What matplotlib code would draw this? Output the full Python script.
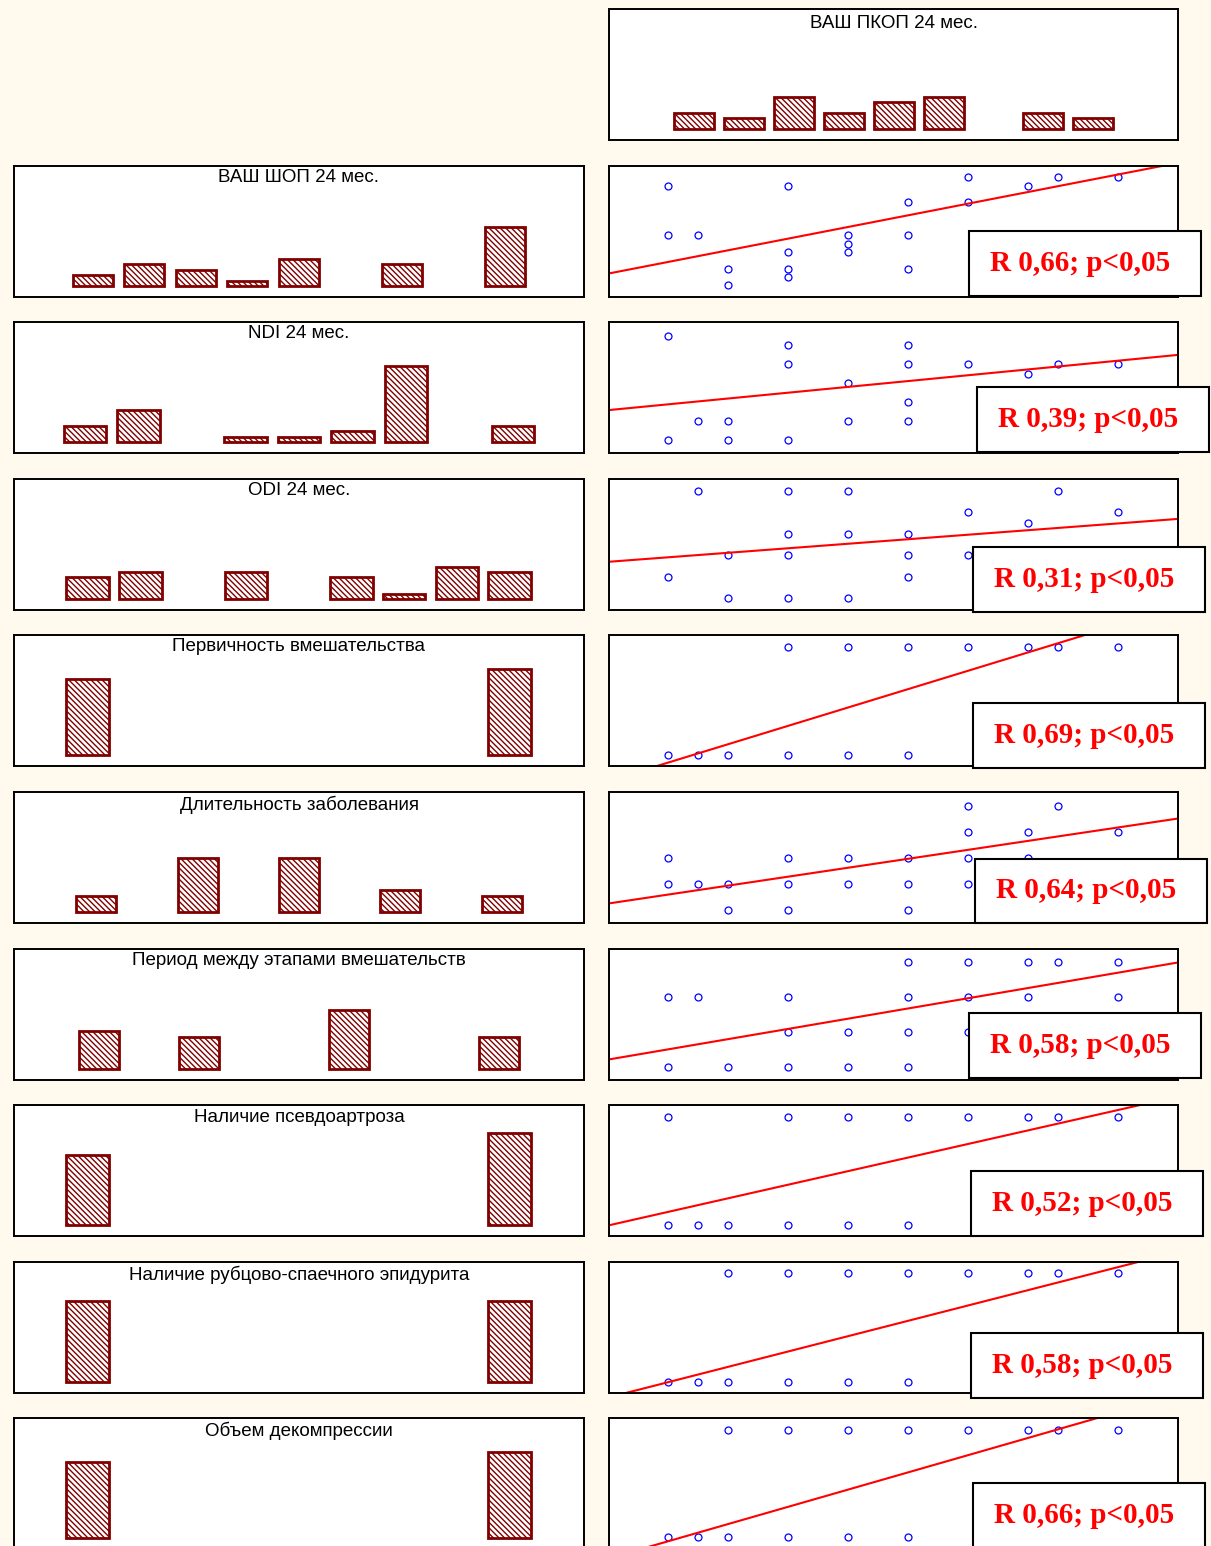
import numpy as np
import matplotlib
matplotlib.use("Agg")
import matplotlib.pyplot as plt
from matplotlib.patches import Rectangle

plt.rcParams['font.family'] = ['Liberation Sans', 'DejaVu Sans']
plt.rcParams['hatch.linewidth'] = 1.0

# ---------------- data ----------------
pkop_title = "ВАШ ПКОП 24 мес."
pkop_counts = [3, 2, 6, 3, 5, 6, 0, 3, 2]

titles = ["ВАШ ШОП 24 мес.", "NDI 24 мес.", "ODI 24 мес.",
          "Первичность вмешательства", "Длительность заболевания",
          "Период между этапами вмешательств", "Наличие псевдоартроза",
          "Наличие рубцово-спаечного эпидурита", "Объем декомпрессии"]

shop_counts = [2, 4, 3, 1, 5, 0, 4, 0, 11]
ndi_counts = [3, 6, 0, 1, 1, 2, 14, 0, 3]
odi_counts = [4, 5, 0, 5, 0, 4, 1, 6, 5]
primary_counts = [14, 16]
duration_counts = [3, 10, 10, 4, 3]
interval_counts = [7, 0, 6, 0, 0, 11, 0, 0, 6]
pseudo_counts = [13, 17]
epidur_counts = [15, 15]
decomp_counts = [14, 16]

# x: ВАШ ПКОП 24 мес.; y: the variable of each row
shop_x = [1, 1, 1.5, 2, 2, 3, 3, 3, 3, 4, 4, 4, 5, 5, 5, 6, 6, 7, 7.5, 8.5]
shop_y = [7, 4, 4, 2, 1, 7, 3, 2, 1.5, 4, 3.5, 3, 6, 4, 2, 7.5, 6, 7, 7.5, 7.5]
ndi_x = [1, 3, 3, 5, 5, 6, 7, 7.5, 8.5, 4, 5, 1.5, 2, 4, 5, 1, 2, 3]
ndi_y = [26, 24, 20, 24, 20, 20, 18, 20, 20, 16, 12, 8, 8, 8, 8, 4, 4, 4]
odi_x = [1.5, 3, 4, 7.5, 6, 8.5, 7, 3, 4, 5, 2, 3, 5, 6, 1, 5, 2, 3, 4]
odi_y = [26, 26, 26, 26, 22, 22, 20, 18, 18, 18, 14, 14, 14, 14, 10, 10, 6, 6, 6]
primary_x = [3, 4, 5, 6, 7, 7.5, 8.5, 1, 1.5, 2, 3, 4, 5]
primary_y = [2, 2, 2, 2, 2, 2, 2, 1, 1, 1, 1, 1, 1]
duration_x = [6, 7.5, 6, 7, 8.5, 1, 3, 4, 5, 6, 7, 1, 1.5, 2, 3, 4, 5, 6, 2, 3, 5]
duration_y = [5, 5, 4, 4, 4, 3, 3, 3, 3, 3, 3, 2, 2, 2, 2, 2, 2, 2, 1, 1, 1]
interval_x = [5, 6, 7, 7.5, 8.5, 1, 1.5, 3, 5, 6, 7, 8.5, 3, 4, 5, 6, 1, 2, 3, 4, 5]
interval_y = [4, 4, 4, 4, 4, 3, 3, 3, 3, 3, 3, 3, 2, 2, 2, 2, 1, 1, 1, 1, 1]
pseudo_x = [1, 3, 4, 5, 6, 7, 7.5, 8.5, 1, 1.5, 2, 3, 4, 5]
pseudo_y = [1, 1, 1, 1, 1, 1, 1, 1, 0, 0, 0, 0, 0, 0]
epidur_x = [2, 3, 4, 5, 6, 7, 7.5, 8.5, 1, 1.5, 2, 3, 4, 5]
epidur_y = [1, 1, 1, 1, 1, 1, 1, 1, 0, 0, 0, 0, 0, 0]
decomp_x = [2, 3, 4, 5, 6, 7, 7.5, 8.5, 1, 1.5, 2, 3, 4, 5]
decomp_y = [2, 2, 2, 2, 2, 2, 2, 2, 1, 1, 1, 1, 1, 1]

r_labels = ["0,66", "0,39", "0,31", "0,69", "0,64", "0,58", "0,52", "0,58", "0,66"]
fit_intercepts = [1.697, 10.334, 12.772, 0.759, 1.255, 1.201, -0.005, -0.144, 0.802]
fit_slopes = [0.7024, 1.225, 0.8397, 0.1698, 0.3423, 0.2929, 0.1256, 0.1408, 0.1603]

# ---------------- layout (pixels) ----------------
W, H = 1211, 1546
BG = '#FFF9EE'
BAR_EDGE = '#800000'
PANEL_H = 131
LEFT_X = (14, 584)
RIGHT_X = (609, 1178)
TOP_PANEL_Y = 9
ROW_TOPS = [166, 322, 479, 635, 792, 949, 1105, 1262, 1418]
PX_PER_COUNT = 5.4
BAR_BASE = 11
SC_XLIM = (0.025, 9.508)

hist_sets = [shop_counts, ndi_counts, odi_counts, primary_counts, duration_counts,
             interval_counts, pseudo_counts, epidur_counts, decomp_counts]
# (first bar centre from panel left, bin spacing, bar width) in px
hist_geom = [(78.9, 51.5, 40), (71.1, 53.5, 42.5), (73.6, 52.75, 42.5),
             (73.6, 422, 43), (82.5, 101.25, 40), (85, 49.94, 40),
             (73.6, 422, 43), (73.6, 422, 43), (73.6, 422, 43)]
scatter_sets = [(shop_x, shop_y), (ndi_x, ndi_y), (odi_x, odi_y),
                (primary_x, primary_y), (duration_x, duration_y),
                (interval_x, interval_y), (pseudo_x, pseudo_y),
                (epidur_x, epidur_y), (decomp_x, decomp_y)]
scatter_ylims = [(0.2952, 8.1867), (1.326, 28.905), (3.825, 28.175),
                 (0.899, 2.110), (0.514, 5.524), (0.619, 4.372),
                 (-0.101, 1.110), (-0.101, 1.101), (0.892, 2.111)]
r_boxes = [(969, 231, 1201, 296), (977, 387, 1209, 452), (973, 547, 1205, 612),
           (973, 703, 1205, 768), (975, 859, 1207, 923), (969, 1013, 1201, 1078),
           (971, 1171, 1203, 1236), (971, 1333, 1203, 1398), (973, 1483, 1205, 1548)]

fig = plt.figure(figsize=(W / 100, H / 100), dpi=100, facecolor=BG)


def panel(x0, x1, top):
    ax = fig.add_axes([x0 / W, 1 - (top + PANEL_H) / H, (x1 - x0) / W, PANEL_H / H])
    ax.set_facecolor('white')
    ax.set_xticks([])
    ax.set_yticks([])
    for sp in ax.spines.values():
        sp.set_color('black')
        sp.set_linewidth(1.4)
    return ax


def draw_hist(ax, counts, geom, panel_w, title, title_gap=3.5):
    c0, step, width = geom
    counts = np.asarray(counts)
    idx = np.arange(len(counts))
    keep = counts > 0
    ax.bar(idx[keep], counts[keep], width=width / step, facecolor='white',
           edgecolor=BAR_EDGE, linewidth=2.0, hatch='\\\\\\\\\\\\')
    ax.set_xlim(-c0 / step, (panel_w - c0) / step)
    ax.set_ylim(-BAR_BASE / PX_PER_COUNT, (PANEL_H - BAR_BASE) / PX_PER_COUNT)
    ax.text(0.5, 1 - title_gap / PANEL_H, title, transform=ax.transAxes,
            ha='center', va='top', fontsize=13.5, color='black')


# top-right histogram
ax = panel(*RIGHT_X, TOP_PANEL_Y)
draw_hist(ax, pkop_counts, (84.8, 49.95, 40), RIGHT_X[1] - RIGHT_X[0], pkop_title,
          title_gap=6)

for i, top in enumerate(ROW_TOPS):
    axl = panel(*LEFT_X, top)
    draw_hist(axl, hist_sets[i], hist_geom[i], LEFT_X[1] - LEFT_X[0], titles[i])

    axr = panel(*RIGHT_X, top)
    xs, ys = scatter_sets[i]
    axr.plot(xs, ys, linestyle='none', marker='o', ms=5, mfc='none',
             mec='#0000FF', mew=0.9)
    xl = np.array(SC_XLIM)
    axr.plot(xl, fit_intercepts[i] + fit_slopes[i] * xl, color='#FF0000', lw=1.5)
    axr.set_xlim(*SC_XLIM)
    axr.set_ylim(*scatter_ylims[i])

    x0, y0, x1, y1 = r_boxes[i]
    fig.add_artist(Rectangle((x0 / W, 1 - y1 / H), (x1 - x0) / W, (y1 - y0) / H,
                             transform=fig.transFigure, facecolor='white',
                             edgecolor='black', linewidth=1.5, zorder=5))
    fig.text((x0 + x1 - 9) / 2 / W, 1 - (y0 + y1) / 2 / H, f"R {r_labels[i]}; p<0,05",
             ha='center', va='center', color='#FF0000', fontsize=21,
             fontweight='bold', family=['Liberation Serif', 'DejaVu Serif'],
             zorder=6)

fig.savefig('out.png', dpi=100, facecolor=BG)
